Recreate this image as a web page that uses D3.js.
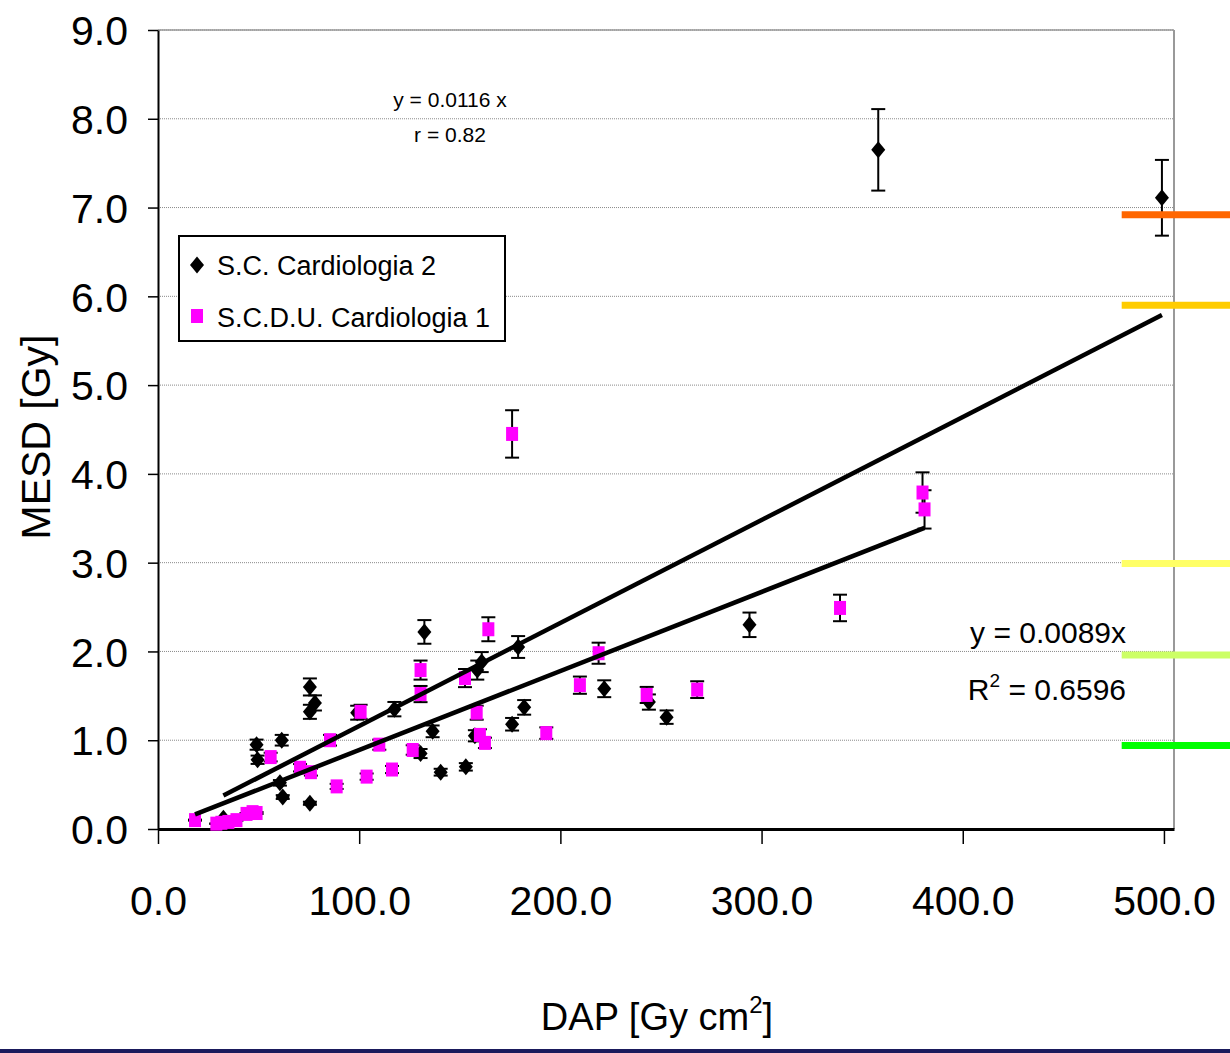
<!DOCTYPE html>
<html>
<head>
<meta charset="utf-8">
<script src="https://cdn.jsdelivr.net/npm/d3@7"></script>
<style>
  html, body { margin: 0; padding: 0; background: #fff; }
  svg { display: block; font-family: "Liberation Sans", Arial, sans-serif; }
</style>
</head>
<body>
<div id="chart"></div>
<script>
// S.C. Cardiologia 2 (black diamonds)
let card2Dap  = [32.5, 49, 49.5, 61.5, 60.6, 62, 75.5, 78, 75.5, 75.5, 99, 117.5, 132.4, 130.5, 136.5, 140.5, 153, 157.5, 158.7, 160.9, 176, 179, 182, 221.8, 244, 252.8, 294, 358, 499];
let card2Mesd = [0.12, 0.95, 0.78, 1.00, 0.52, 0.36, 1.60, 1.42, 1.32, 0.29, 1.31, 1.35, 2.22, 0.85, 1.10, 0.64, 0.70, 1.05, 1.79, 1.88, 1.18, 2.05, 1.37, 1.58, 1.43, 1.26, 2.30, 7.65, 7.11];

// S.C.D.U. Cardiologia 1 (magenta squares)
let card1Dap  = [18.4, 29, 31.5, 35, 39, 44, 47, 49, 56, 70.6, 76, 85.5, 88.8, 100.7, 103.7, 110, 116.3, 126.6, 130.5, 130.5, 152.6, 158.4, 160, 162.5, 164.2, 176, 193, 209.7, 219, 242.9, 268, 339, 380, 381];
let card1Mesd = [0.10, 0.06, 0.07, 0.08, 0.10, 0.17, 0.19, 0.18, 0.81, 0.69, 0.64, 1.00, 0.48, 1.32, 0.59, 0.95, 0.67, 0.89, 1.79, 1.52, 1.70, 1.31, 1.06, 0.97, 2.25, 4.45, 1.08, 1.62, 1.98, 1.51, 1.57, 2.49, 3.79, 3.60];

let errPct = 0.06; // percentage error bars

let fitSlopes = [0.0116, 0.0089];
let seriesNames = ["S.C. Cardiologia 2", "S.C.D.U. Cardiologia 1"];

let refLevels = [6.92, 5.90, 2.99, 1.96, 0.94];
let refColors = ["#ff6600", "#ffcc00", "#ffff66", "#ccff66", "#00ff00"];
let refSpan = [479, 535];

let yTicks = [0, 1, 2, 3, 4, 5, 6, 7, 8, 9];
let xTicks = [0, 100, 200, 300, 400, 500];

let width = 1230, height = 1053;

let svg = d3.select("#chart").append("svg")
    .attr("width", width)
    .attr("height", height);

let x = d3.scaleLinear().domain([0, 505]).range([158, 1174]);
let y = d3.scaleLinear().domain([0, 9]).range([829, 30]);

// gridlines
svg.append("g")
  .selectAll("line")
  .data(yTicks.filter(d => d > 0))
  .enter()
  .append("line")
  .attr("x1", x(0)).attr("x2", x(505))
  .attr("y1", d => y(d)).attr("y2", d => y(d))
  .attr("stroke", "#8a8a8a")
  .attr("stroke-width", 1)
  .attr("stroke-dasharray", "1,1");

// plot border top / right
svg.append("line")
  .attr("x1", x(0)).attr("x2", x(505))
  .attr("y1", y(9)).attr("y2", y(9))
  .attr("stroke", "#999").attr("stroke-width", 1.5);
svg.append("line")
  .attr("x1", x(505)).attr("x2", x(505))
  .attr("y1", y(9)).attr("y2", y(0))
  .attr("stroke", "#999").attr("stroke-width", 2);

// axes
let yAxis = svg.append("g")
  .attr("transform", `translate(${x(0)},0)`)
  .call(d3.axisLeft(y).tickValues(yTicks).tickFormat(d3.format(".1f")).tickSize(10).tickPadding(20).tickSizeOuter(0));
let xAxis = svg.append("g")
  .attr("transform", `translate(0,${y(0)})`)
  .call(d3.axisBottom(x).tickValues(xTicks).tickFormat(d3.format(".1f")).tickSize(15).tickPadding(42).tickSizeOuter(0));

[yAxis, xAxis].forEach(a => {
  a.select(".domain").attr("stroke", "#000");
  a.selectAll(".tick line").attr("stroke", "#000").attr("stroke-width", 1.5);
  a.selectAll("text")
    .attr("font-family", "'Liberation Sans', Arial, sans-serif")
    .attr("font-size", 41)
    .attr("fill", "#000");
});
yAxis.select(".domain").attr("stroke-width", 2);
xAxis.select(".domain").attr("stroke-width", 3);
yAxis.selectAll("text").attr("dy", "0.36em");

// series
let card2 = card2Dap.map((d, i) => ({ x: d, y: card2Mesd[i] }));
let card1 = card1Dap.map((d, i) => ({ x: d, y: card1Mesd[i] }));

let drawErrors = (data) => {
  let g = svg.append("g").attr("stroke", "#000").attr("stroke-width", 2);
  data.forEach(p => {
    let hi = p.y * (1 + errPct), lo = p.y * (1 - errPct);
    g.append("line").attr("x1", x(p.x)).attr("x2", x(p.x)).attr("y1", y(hi)).attr("y2", y(lo));
    g.append("line").attr("x1", x(p.x) - 7).attr("x2", x(p.x) + 7).attr("y1", y(hi)).attr("y2", y(hi));
    g.append("line").attr("x1", x(p.x) - 7).attr("x2", x(p.x) + 7).attr("y1", y(lo)).attr("y2", y(lo));
  });
};

let diamond = (cx, cy) => `M${cx},${cy - 8.5}L${cx + 7},${cy}L${cx},${cy + 8.5}L${cx - 7},${cy}Z`;

drawErrors(card2);
svg.append("g")
  .selectAll("path")
  .data(card2)
  .enter()
  .append("path")
  .attr("d", p => diamond(x(p.x), y(p.y)))
  .attr("fill", "#000");

drawErrors(card1);
svg.append("g")
  .selectAll("rect")
  .data(card1)
  .enter()
  .append("rect")
  .attr("x", p => x(p.x) - 6)
  .attr("y", p => y(p.y) - 7)
  .attr("width", 12)
  .attr("height", 14)
  .attr("fill", "#ff00ff");

// trend lines through origin
let line = d3.line().x(d => x(d[0])).y(d => y(d[1]));
[card2Dap, card1Dap].forEach((xs, i) => {
  let ext = d3.extent(xs);
  svg.append("path")
    .datum(ext.map(v => [v, v * fitSlopes[i]]))
    .attr("d", line)
    .attr("fill", "none")
    .attr("stroke", "#000")
    .attr("stroke-width", 4.5);
});

// reference levels
svg.append("g")
  .selectAll("line")
  .data(refLevels)
  .enter()
  .append("line")
  .attr("x1", x(refSpan[0])).attr("x2", x(refSpan[1]))
  .attr("y1", d => y(d)).attr("y2", d => y(d))
  .attr("stroke", (d, i) => refColors[i])
  .attr("stroke-width", 7);

// legend
let legend = svg.append("g");
legend.append("rect")
  .attr("x", 179).attr("y", 236).attr("width", 326).attr("height", 105)
  .attr("fill", "#fff").attr("stroke", "#000").attr("stroke-width", 2);
legend.append("path").attr("d", diamond(197, 265)).attr("fill", "#000");
legend.append("rect").attr("x", 191).attr("y", 309).attr("width", 12).attr("height", 14).attr("fill", "#ff00ff");
legend.selectAll("text.lg")
  .data(seriesNames)
  .enter()
  .append("text")
  .attr("x", 217)
  .attr("y", (d, i) => 275 + i * 52)
  .attr("font-size", 27)
  .text(d => d);

// fit annotations
svg.append("text").attr("x", 450).attr("y", 107).attr("text-anchor", "middle").attr("font-size", 21).text("y = 0.0116 x");
svg.append("text").attr("x", 450).attr("y", 142).attr("text-anchor", "middle").attr("font-size", 21).text("r = 0.82");

svg.append("text").attr("x", 1126).attr("y", 643).attr("text-anchor", "end").attr("font-size", 30).text("y = 0.0089x");
let r2 = svg.append("text").attr("x", 1126).attr("y", 700).attr("text-anchor", "end").attr("font-size", 30);
r2.append("tspan").text("R");
r2.append("tspan").attr("font-size", 19).attr("dy", -13).text("2");
r2.append("tspan").attr("dy", 13).text(" = 0.6596");

// axis titles
svg.append("text")
  .attr("transform", "translate(50,437) rotate(-90)")
  .attr("text-anchor", "middle")
  .attr("font-size", 41)
  .text("MESD [Gy]");

let xt = svg.append("text")
  .attr("x", 657).attr("y", 1030)
  .attr("text-anchor", "middle")
  .attr("font-size", 38);
xt.append("tspan").text("DAP [Gy cm");
xt.append("tspan").attr("font-size", 24).attr("dy", -17).text("2");
xt.append("tspan").attr("dy", 17).text("]");

// bottom frame line
svg.append("rect")
  .attr("x", 0).attr("y", 1049).attr("width", width).attr("height", 4)
  .attr("fill", "#1a1a5c");
</script>
</body>
</html>
